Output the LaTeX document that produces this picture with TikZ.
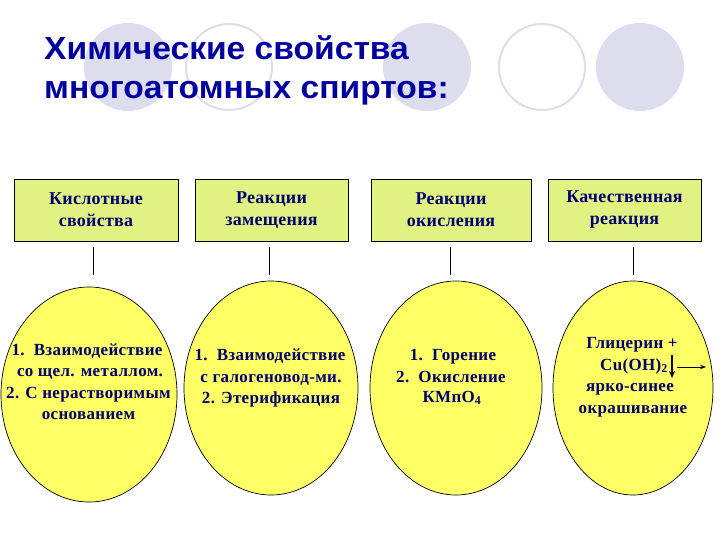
\documentclass[tikz,border=0pt]{standalone}
\usepackage{fontspec}
\setmainfont{Liberation Serif}
\newfontfamily\titlefont{Liberation Sans}[Scale=1]
\usetikzlibrary{shapes.geometric,arrows.meta}
\definecolor{titleblue}{RGB}{0,0,160}
\definecolor{lav}{RGB}{221,221,238}
\definecolor{boxfill}{RGB}{226,242,130}
\definecolor{ellfill}{RGB}{255,255,102}
\definecolor{navy}{RGB}{0,0,110}
\begin{document}
\begin{tikzpicture}[x=1pt,y=-1pt,
  fillcirc/.style={circle,fill=lav,draw=none,minimum size=88pt,inner sep=0pt},
  ringcirc/.style={circle,draw=lav,line width=2pt,minimum size=86pt,inner sep=0pt},
  titletext/.style={anchor=base west,inner sep=0pt,text=titleblue,
    font=\titlefont\fontsize{32}{36}\selectfont\bfseries},
  catbox/.style={rectangle,draw=black,line width=0.9pt,fill=boxfill,
    minimum height=62pt,inner sep=0pt,align=center,text=navy,
    font=\fontsize{18}{22}\selectfont\bfseries\addfontfeatures{LetterSpace=1.5}},
  resell/.style={ellipse,draw=black,line width=0.7pt,fill=ellfill,inner sep=0pt},
  ltext/.style={anchor=base,inner sep=0pt,text=navy,
    font=\fontsize{17}{21}\selectfont\bfseries\addfontfeatures{LetterSpace=2}},
  conn/.style={draw=black,line width=0.8pt}
]
\useasboundingbox (0,0) rectangle (720,540);
% decorative circles
\node[fillcirc] (c1) at (128,67) {};
\node[ringcirc] (c2) at (229,67) {};
\node[fillcirc] (c3) at (427,67) {};
\node[ringcirc] (c4) at (542,67) {};
\node[fillcirc] (c5) at (640,67) {};
% title
\node[titletext] (h1) at (44,60) {\scalebox{1.05}[1]{Химические свойства}};
\node[titletext] (h2) at (44,99) {\scalebox{1.05}[1]{многоатомных спиртов:}};
% category boxes
\node[catbox,minimum width=164pt] (b1) at (96,210) {Кислотные\\свойства};
\node[catbox,minimum width=153pt] (b2) at (271.5,210) {Реакции\\замещения};
\node[catbox,minimum width=160pt] (b3) at (451,210) {Реакции\\окисления};
\node[catbox,minimum width=153pt] (b4) at (624.5,210) {Качественная\\реакция};
% ellipses
\node[resell,minimum width=176pt,minimum height=215pt] (e1) at (89,394.5) {};
\node[resell,minimum width=174pt,minimum height=214pt] (e2) at (271,388) {};
\node[resell,minimum width=172pt,minimum height=214pt] (e3) at (456,388) {};
\node[resell,minimum width=160pt,minimum height=214pt] (e4) at (633,388) {};
% connectors
\draw[conn] ([xshift=-3pt]b1.south) ++(0,6) -- ++(0,28);
\draw[conn] ([xshift=-2.5pt]b2.south) ++(0,6) -- ++(0,28);
\draw[conn] ([xshift=-1pt]b3.south) ++(0,6) -- ++(0,28);
\draw[conn] ([xshift=8.5pt]b4.south) ++(0,6) -- ++(0,28);
% ellipse 1 text
\node[ltext] (t11) at (87,355) {1.\ \ Взаимодействие};
\node[ltext] (t12) at (90,376) {со щел. металлом.};
\node[ltext] (t13) at (88.5,398) {2. С нерастворимым};
\node[ltext] (t14) at (88.5,419) {основанием};
% ellipse 2 text
\node[ltext] (t21) at (270,360) {1.\ \ Взаимодействие};
\node[ltext] (t22) at (271,382) {с галогеновод-ми.};
\node[ltext] (t23) at (271,403) {2. Этерификация};
% ellipse 3 text
\node[ltext] (t31) at (453,360) {1.\ \ Горение};
\node[ltext] (t32) at (451,382) {2.\ \ Окисление};
\node[ltext] (t33) at (452,402) {КМпО\textsubscript{4}};
% ellipse 4 text
\node[ltext] (t41) at (632,348) {Глицерин +};
\node[ltext,anchor=base east] (t42) at (668,370) {Cu(OH)\textsubscript{2}};
\node[ltext] (t43) at (630,391) {ярко-синее};
\node[ltext] (t44) at (633,413) {окрашивание};
\coordinate (dn1) at (672,355);
\coordinate (dn2) at (672,378);
\coordinate (rt1) at (677,367);
\coordinate (rt2) at (706,367);
\draw[line width=1.6pt,-{Stealth[length=7pt,width=6pt]}] (dn1) -- (dn2);
\draw[line width=0.8pt,-{Stealth[length=6pt,width=4.5pt]}] (rt1) -- (rt2);
\end{tikzpicture}
\end{document}
